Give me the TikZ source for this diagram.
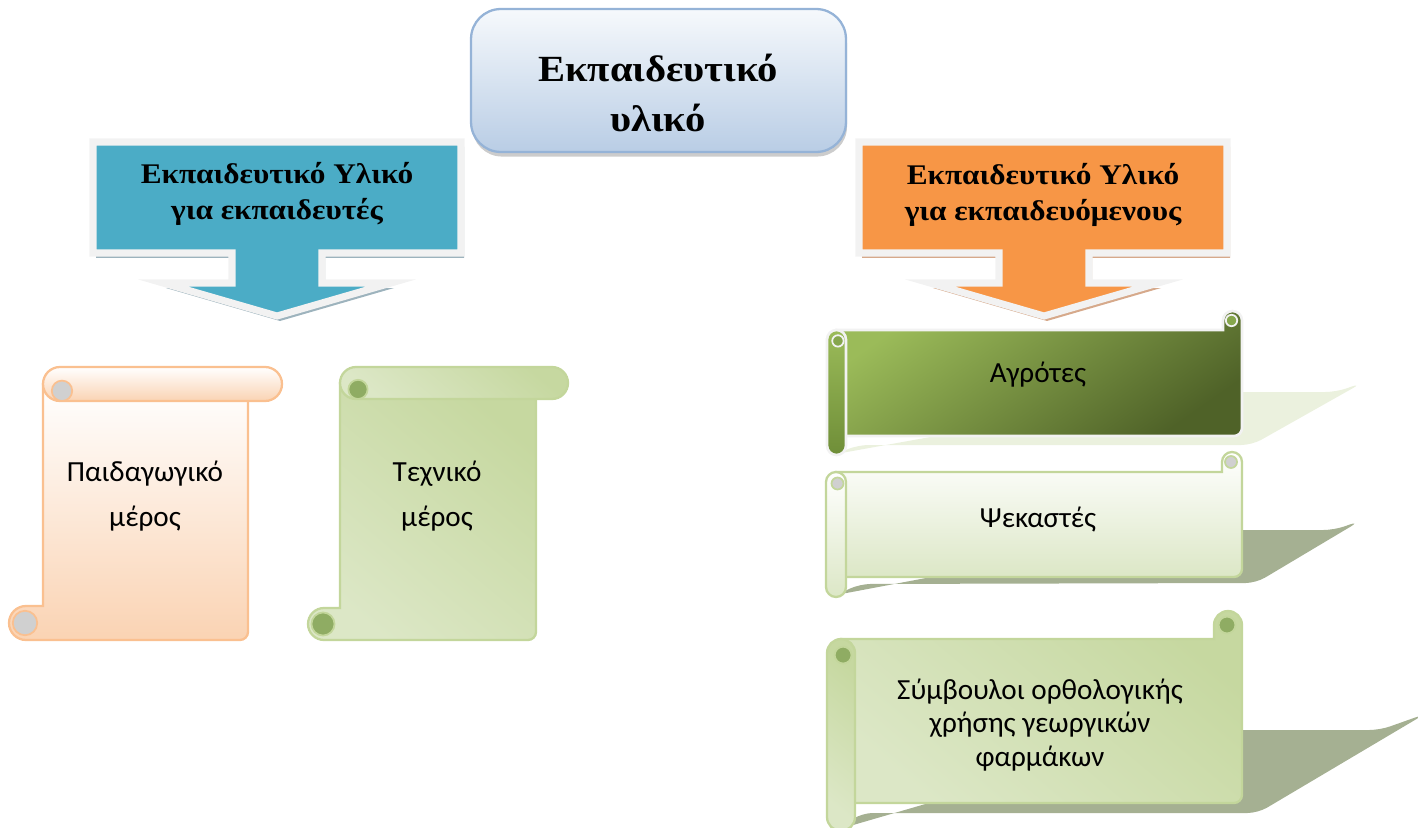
\documentclass[tikz,border=0pt]{standalone}
\usepackage{fontspec}
\setmainfont{Carlito}
\newfontfamily\headfont[FakeStretch=1.1]{Liberation Serif}
\usetikzlibrary{shadows}

\definecolor{titleline}{HTML}{95B3D7}
\definecolor{titletop}{HTML}{F6F9FC}
\definecolor{titlelow}{HTML}{B9CDE5}
\definecolor{tealbox}{HTML}{4BACC6}
\definecolor{tealshade}{HTML}{9DB3BD}
\definecolor{orangebox}{HTML}{F79646}
\definecolor{orangeshade}{HTML}{D6A98B}
\definecolor{edgegray}{HTML}{F2F2F2}
\definecolor{peachline}{HTML}{FAC090}
\definecolor{peachlow}{HTML}{FAD3B3}
\definecolor{curlgray}{HTML}{D0D0D0}
\definecolor{oliveline}{HTML}{C3D69B}
\definecolor{olivehigh}{HTML}{C6D8A0}
\definecolor{olivemid}{HTML}{F2F6EA}
\definecolor{olivelow}{HTML}{DCE7C6}
\definecolor{curlgreen}{HTML}{8FAC63}
\definecolor{leafhigh}{HTML}{9BBB59}
\definecolor{leafmid}{HTML}{6F8E38}
\definecolor{leaflow}{HTML}{4F6228}
\definecolor{leafcurl}{HTML}{86A64D}
\definecolor{shadelight}{HTML}{EBF1DE}
\definecolor{shadedark}{HTML}{A5B092}

% vertical scroll: left, right, top, bottom, roll radius, body style, border, curl
\newcommand{\vscroll}[8]{%
  \draw[#6, draw=#7] (#1,{#3+#5}) -- (#1,{#4-2*#5}) -- ({#1-#5},{#4-2*#5})
    arc[start angle=270, end angle=90, radius=#5]
    -- ({#2-8},#4) arc[start angle=90, end angle=0, radius=8] -- (#2,{#3+#5}) -- cycle;
  \draw[draw=#7, fill=#8, line width=1pt] ({#1-#5-1},{#4-#5}) circle[radius={0.72*#5}];
  \draw[#6, draw=#7] ({#1+#5},#3) -- ({#2+#5},#3) arc[start angle=-90, end angle=90, radius=#5]
    -- ({#1+#5},{#3+2*#5}) arc[start angle=90, end angle=270, radius=#5] -- cycle;
  \draw[draw=#7, fill=#8, line width=1pt] ({#1+#5+2},{#3+1.4*#5}) circle[radius={0.6*#5}];
}
% horizontal scroll: left, right, top, bottom, roll radius, body style, border, curl, roll style
\newcommand{\hscroll}[9]{%
  \draw[#6, draw=#7] ({#1+#5},#3) -- ({#2-2*#5},#3) -- ({#2-2*#5},{#3-#5})
    arc[start angle=180, end angle=360, radius=#5]
    -- (#2,{#4-8}) arc[start angle=0, end angle=90, radius=8] -- ({#1+#5},#4) -- cycle;
  \draw[draw=#7, fill=#8, line width=1pt] ({#2-#5-1},{#3-#5}) circle[radius={0.6*#5}];
  \draw[#9, draw=#7] (#1,{#3+#5}) -- (#1,{#4+#5}) arc[start angle=180, end angle=0, radius=#5]
    -- ({#1+2*#5},{#3+#5}) arc[start angle=0, end angle=-180, radius=#5] -- cycle;
  \draw[draw=#7, fill=#8, line width=1pt] ({#1+1.15*#5},{#3+1.15*#5}) circle[radius={0.6*#5}];
}
% down arrow callout: left, right, top, bottom, stem centre
\newcommand{\callpath}[5]{(#1,#3) -- (#2,#3) -- (#2,#4) -- ({#5+45},#4) -- ({#5+45},{#4+30})
  -- ({#5+114},{#4+30}) -- (#5,{#4+63}) -- ({#5-114},{#4+30}) -- ({#5-45},{#4+30})
  -- ({#5-45},#4) -- (#1,#4) -- cycle}

\begin{document}
\begin{tikzpicture}[x=0.02cm, y=-0.02cm,
    titlebox/.style={draw=titleline, line width=1.3pt, rounded corners=17pt,
      top color=titletop, bottom color=titlelow, minimum width=7.5cm, minimum height=2.86cm,
      drop shadow={shadow xshift=0.6pt, shadow yshift=-2.6pt, fill=black!40}},
    headtext/.style={font=\headfont\bfseries\fontsize{21}{28.5}\selectfont, align=center},
    calltext/.style={font=\headfont\bfseries\fontsize{16.2}{20.5}\selectfont, align=center},
    scrolltext/.style={font=\fontsize{16.6}{25.6}\selectfont, align=center},
    listtext/.style={font=\fontsize{16.6}{19.3}\selectfont, align=center},
    callout/.style={draw=edgegray, line width=4pt, line join=miter},
    peachbody/.style={top color=white, bottom color=peachlow, line width=1.3pt},
    olivebody/.style={top color=olivehigh, middle color=olivemid, bottom color=olivelow,
      shading angle=-40, line width=1.3pt},
    leafbody/.style={top color=leafhigh, bottom color=leaflow, shading angle=35, line width=1.5pt},
    leafroll/.style={top color=leafhigh, bottom color=leafmid, line width=1.5pt},
    palebody/.style={top color=white, bottom color=olivelow, line width=1.3pt}]
  \useasboundingbox (0,0) rectangle (1418,828);

  % top box
  \node[titlebox] (titlebox) at (658.5,80.5) {};
  \node[headtext] (title) at (658,93) {Εκπαιδευτικό\\υλικό};

  % callouts
  \fill[tealshade, shift={(3,5)}] \callpath{93}{461}{142}{253}{277};
  \draw[callout, fill=tealbox] \callpath{93}{461}{142}{253}{277};
  \node[calltext] (trainers) at (277,194) {Εκπαιδευτικό Υλικό\\για εκπαιδευτές};

  \fill[orangeshade, shift={(3,5)}] \callpath{859}{1227}{142}{253}{1044};
  \draw[callout, fill=orangebox] \callpath{859}{1227}{142}{253}{1044};
  \node[calltext] (trainees) at (1043,195) {Εκπαιδευτικό Υλικό\\για εκπαιδευόμενους};

  % vertical scrolls
  \vscroll{43}{248}{367}{640}{17}{peachbody}{peachline}{curlgray}
  \node[scrolltext] (paid) at (145,496) {Παιδαγωγικό\\μέρος};
  \vscroll{340}{536}{367}{640}{16}{olivebody}{oliveline}{curlgreen}
  \node[scrolltext] (tech) at (437,496) {Τεχνικό\\μέρος};

  % shadows of the horizontal scrolls
  \fill[shadelight, rounded corners=6pt] (836,454) -- (858,445) -- (1252,445) -- (1362,383)
    -- (1336,392) -- (1180,392) -- cycle;
  \fill[shadedark, rounded corners=6pt] (836,595) -- (860,584) -- (1256,583) -- (1360,521)
    -- (1334,530) -- (1180,530) -- cycle;
  \fill[shadedark, rounded corners=6pt] (836,830) -- (862,813) -- (1258,813) -- (1425,714)
    -- (1380,730) -- (1180,730) -- cycle;

  % horizontal scrolls
  \hscroll{827}{1242}{330}{436}{9.5}{leafbody}{edgegray}{leafcurl}{leafroll}
  \node[scrolltext] (farm) at (1038,375) {Αγρότες};
  \hscroll{826}{1242}{472}{577}{10}{palebody}{oliveline}{curlgray}{palebody}
  \node[scrolltext] (spray) at (1038,520) {Ψεκαστές};
  \hscroll{827}{1242}{639}{803}{14}{olivebody}{oliveline}{curlgreen}{olivebody}
  \node[listtext] (advice) at (1040,725) {Σύμβουλοι ορθολογικής\\χρήσης γεωργικών\\φαρμάκων};
\end{tikzpicture}
\end{document}
